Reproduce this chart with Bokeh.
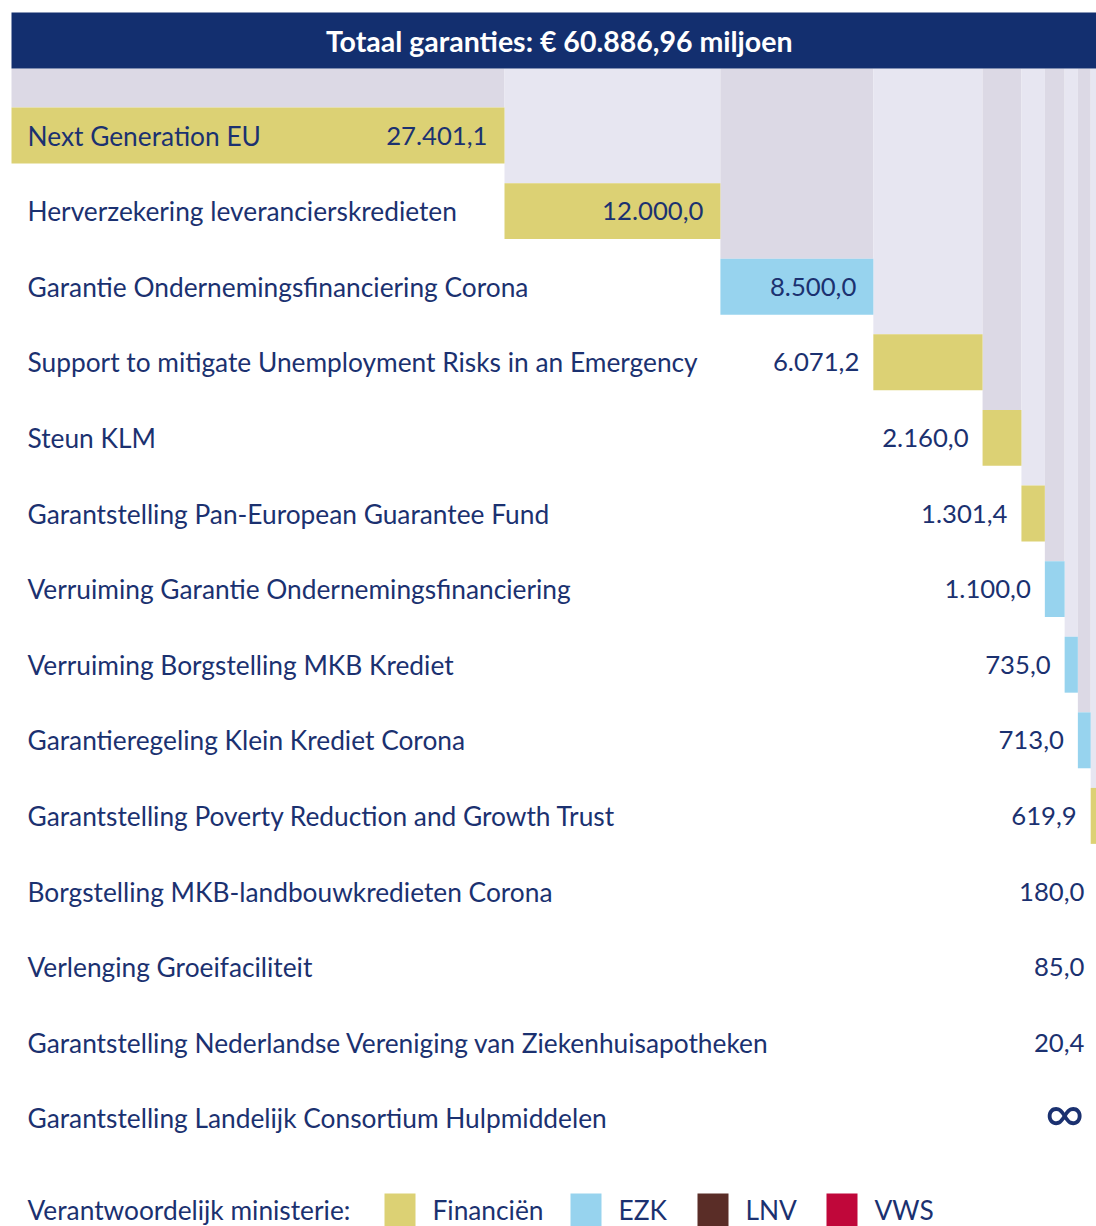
import numpy as np
from bokeh.plotting import figure
from bokeh.models import Range1d, ColumnDataSource
from bokeh.core.properties import value
from bokeh.embed import file_html
from bokeh.resources import INLINE

# ---------------- data ----------------
title = "Totaal garanties: € 60.886,96 miljoen"
names = [
    "Next Generation EU",
    "Herverzekering leverancierskredieten",
    "Garantie Ondernemingsfinanciering Corona",
    "Support to mitigate Unemployment Risks in an Emergency",
    "Steun KLM",
    "Garantstelling Pan-European Guarantee Fund",
    "Verruiming Garantie Ondernemingsfinanciering",
    "Verruiming Borgstelling MKB  Krediet",
    "Garantieregeling Klein Krediet Corona",
    "Garantstelling Poverty Reduction and Growth Trust",
    "Borgstelling MKB-landbouwkredieten Corona",
    "Verlenging Groeifaciliteit",
    "Garantstelling Nederlandse Vereniging van Ziekenhuisapotheken",
    "Garantstelling Landelijk Consortium Hulpmiddelen",
]
values = [27401.1, 12000.0, 8500.0, 6071.2, 2160.0, 1301.4, 1100.0,
          735.0, 713.0, 619.9, 180.0, 85.0, 20.4, np.nan]
value_labels = ["27.401,1", "12.000,0", "8.500,0", "6.071,2", "2.160,0",
                "1.301,4", "1.100,0", "735,0", "713,0", "619,9", "180,0",
                "85,0", "20,4", "∞"]
ministries = ["Financiën", "Financiën", "EZK", "Financiën", "Financiën",
              "Financiën", "EZK", "EZK", "EZK", "Financiën", "LNV", "EZK",
              "VWS", "VWS"]
legend_title = "Verantwoordelijk ministerie:"
legend_names = ["Financiën", "EZK", "LNV", "VWS"]
legend_colors = ["#dcd174", "#97d3ee", "#5a2d27", "#c0073a"]

# ---------------- layout ----------------
W, H = 1096, 1226
PX_LEFT = 11          # pixel where value 0 sits
K = 0.017992          # pixels per million
ROW0, PITCH = 135, 75.6
HALF = 0.37           # half bar height in rows
NAVY_BG = "#132f6f"
NAVY_TX = "#1b3170"
SHADES = ["#dcd9e5", "#e7e6f1"]
FONT = value("Lato")

def px_x(px):
    return (px - PX_LEFT) / K

def px_y(py):
    return (py - ROW0) / PITCH

p = figure(width=W, height=H, output_backend="svg", toolbar_location=None,
           x_range=Range1d(px_x(0), px_x(W)),
           y_range=Range1d(px_y(H), px_y(0)),
           x_axis_location=None, y_axis_location=None, min_border=0)
p.grid.visible = False
p.outline_line_color = None
p.background_fill_color = "white"
p.border_fill_color = "white"

vals = np.array(values, dtype=float)
ends = np.nancumsum(vals)
starts = ends - np.nan_to_num(vals)
total = ends[-1]
rows = np.arange(len(names), dtype=float)
color_map = dict(zip(legend_names, legend_colors))

header_top, header_bot = px_y(12), px_y(68)

# background columns
valid = ~np.isnan(vals)
col_src = ColumnDataSource(dict(
    left=starts[valid], right=ends[valid],
    top=np.full(valid.sum(), header_bot), bottom=rows[valid] - HALF,
    color=[SHADES[i % 2] for i in range(valid.sum())]))
p.quad(left="left", right="right", top="top", bottom="bottom",
       fill_color="color", line_color=None, source=col_src)

# bars
bar_src = ColumnDataSource(dict(
    left=starts[valid], right=ends[valid],
    top=rows[valid] - HALF, bottom=rows[valid] + HALF,
    color=[color_map[m] for m, v in zip(ministries, valid) if v]))
p.quad(left="left", right="right", top="top", bottom="bottom",
       fill_color="color", line_color=None, source=bar_src)

# header
p.quad(left=[0], right=[total], top=[header_top], bottom=[header_bot],
       fill_color=NAVY_BG, line_color=None)
p.text(x=[total / 2], y=[(header_top + header_bot) / 2], text=[title],
       text_color="white", text_font=FONT, text_font_style="bold",
       text_font_size="28.5px", text_align="center", text_baseline="middle")

# row names
p.text(x=np.full(len(names), px_x(27)), y=rows, text=names,
       text_color=NAVY_TX, text_font=FONT, text_font_size="26.3px",
       text_align="left", text_baseline="middle")

# value labels
inside = np.arange(len(names)) < 3
anchor = np.where(inside, ends, starts)
anchor_px = PX_LEFT + anchor * K + np.where(inside, -17, -14)
anchor_px = np.minimum(anchor_px, 1084)
sizes = ["54px" if t == "∞" else "25.7px" for t in value_labels]
lab_y = np.where(np.array(value_labels) == "∞", rows - 0.09, rows)
lab_src = ColumnDataSource(dict(x=px_x(anchor_px), y=lab_y,
                                t=value_labels, s=sizes))
p.text(x="x", y="y", text="t", source=lab_src, text_font_size="s",
       text_color=NAVY_TX, text_font=FONT,
       text_align="right", text_baseline="middle")

# legend
leg_y = px_y(1209)
p.text(x=[px_x(27)], y=[leg_y], text=[legend_title], text_color=NAVY_TX,
       text_font=FONT, text_font_size="26.3px", text_baseline="middle")
sq_left_px = [384, 570, 697, 826]
p.quad(left=[px_x(v) for v in sq_left_px],
       right=[px_x(v + 31) for v in sq_left_px],
       top=[px_y(1193)] * 4, bottom=[px_y(1226)] * 4,
       fill_color=legend_colors, line_color=None)
p.text(x=[px_x(v + 48) for v in sq_left_px], y=[leg_y] * 4,
       text=legend_names, text_color=NAVY_TX, text_font=FONT,
       text_font_size="26.3px", text_baseline="middle")

open("out.html", "w").write(file_html(p, INLINE))
